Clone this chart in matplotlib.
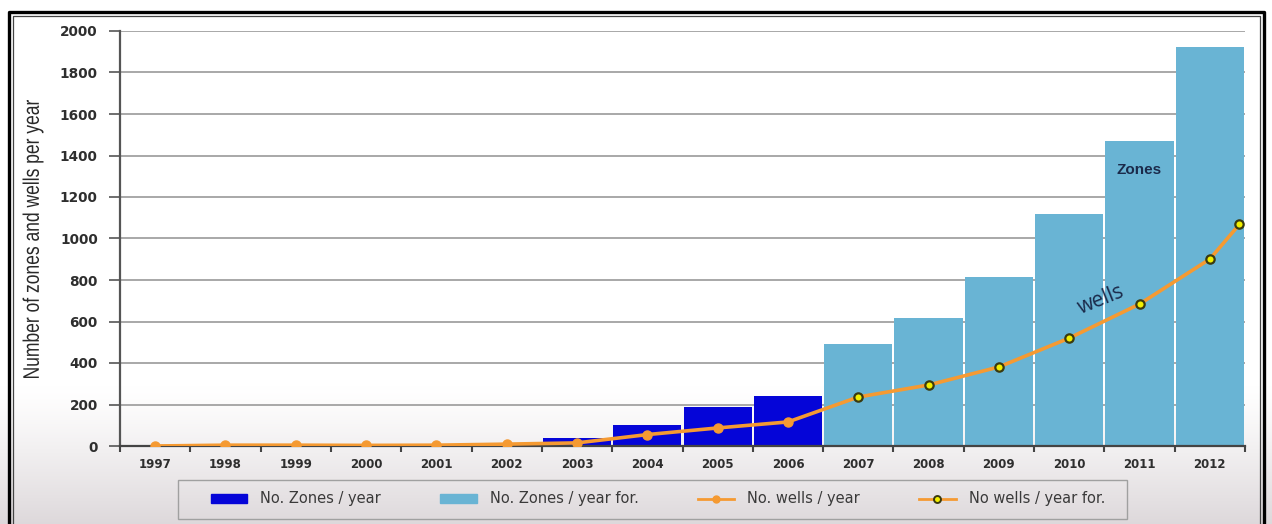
import numpy as np
import matplotlib
matplotlib.use("Agg")
import matplotlib.pyplot as plt
from matplotlib.lines import Line2D
from matplotlib.patches import Patch, Rectangle, PathPatch
from matplotlib.textpath import TextPath
from matplotlib.font_manager import FontProperties
from matplotlib.transforms import Affine2D, IdentityTransform

years = ["1997", "1998", "1999", "2000", "2001", "2002", "2003", "2004",
         "2005", "2006", "2007", "2008", "2009", "2010", "2011", "2012"]

# Zones per year (actual 1997-2006, forecast 2007-2012)
zones_actual = [0, 0, 0, 0, 0, 0, 40, 100, 190, 240]
zones_forecast = [490, 615, 815, 1120, 1470, 1925]

# Wells per year (actual 1997-2006)
wells_actual = [0, 4, 4, 3, 4, 9, 15, 55, 87, 116]
# Wells forecast, starting from the last actual year
wells_forecast_pos = [9, 10, 11, 12, 13, 14, 15, 15.42]
wells_forecast = [116, 236, 294, 381, 520, 684, 901, 1068]

yticks = list(range(0, 2001, 200))

c_dark = "#0505D8"
c_light = "#69B4D4"
c_orange = "#F59A32"
c_text = "#2E2E2E"

plt.rcParams["font.family"] = ["DejaVu Sans"]

W, H = 1272, 524
fig = plt.figure(figsize=(W / 100, H / 100), dpi=100)

# soft grey haze towards the bottom of the panel
bg = fig.add_axes([0, 0, 1, 1], zorder=-5)
grad = np.linspace(0, 1, 200)[:, None]
grad = np.clip((grad - 0.74) / 0.26, 0, 1) ** 1.2
img = np.ones((200, 2, 3))
tint = np.array([0.87, 0.85, 0.86])
img = img * (1 - grad[..., None]) + tint * grad[..., None]
bg.imshow(img, aspect="auto", extent=[0, 1, 0, 1], origin="upper")
bg.set_xlim(0, 1)
bg.set_ylim(0, 1)
bg.axis("off")

ax = fig.add_axes([120 / W, 1 - 446 / H, 1125 / W, 415 / H])
ax.patch.set_alpha(0)

n_act = len(zones_actual)
x_act = np.arange(n_act)
x_fc = np.arange(n_act, n_act + len(zones_forecast))

ax.bar(x_act, zones_actual, width=0.97, color=c_dark, zorder=2)
ax.bar(x_fc, zones_forecast, width=0.97, color=c_light, zorder=2)

ax.plot(wells_forecast_pos, wells_forecast, color=c_orange, lw=2.6, zorder=3,
        solid_capstyle="round")
ax.plot(wells_forecast_pos[1:], wells_forecast[1:], ls="none", marker="o",
        ms=6, mfc="#F2F000", mec="#3A3A10", mew=1.6, zorder=4)
ax.plot(x_act, wells_actual, color=c_orange, lw=2.6, marker="o", ms=6.5,
        mfc=c_orange, mec=c_orange, zorder=3)

ax.set_xlim(-0.5, 15.5)
ax.set_ylim(0, 2000)
ax.set_yticks(yticks)
ax.set_yticklabels([str(v) for v in yticks], fontsize=9.8, fontweight="bold",
                   color=c_text)
ax.set_xticks(np.arange(len(years)))
ax.set_xticklabels(years, fontsize=8.5, fontweight="bold", color=c_text)
ax.tick_params(axis="x", length=0, pad=9)
ax.tick_params(axis="y", length=8, width=1.2, color="#555555", pad=8)

ax.set_xticks(np.arange(-0.5, 15.6, 1), minor=True)
ax.tick_params(axis="x", which="minor", length=4, width=1.5, color="#444444",
               direction="out")

ax.grid(axis="y", color="#A8A8A8", lw=1.4, zorder=0)
ax.set_axisbelow(True)
for s in ["top", "right"]:
    ax.spines[s].set_visible(False)
ax.spines["left"].set_color("#555555")
ax.spines["left"].set_linewidth(1.6)
ax.spines["bottom"].set_color("#444444")
ax.spines["bottom"].set_linewidth(1.6)

# condensed vertical axis title, drawn as a squeezed text outline
ylabel = "Number of zones and wells per year"
tp = TextPath((0, 0), ylabel, size=20, prop=FontProperties(family="Liberation Sans"))
ext = tp.get_extents()
sx = 278 / ext.width
sy = 21 / ext.height
tr = (Affine2D()
      .translate(-(ext.x0 + ext.width / 2), -(ext.y0 + ext.height / 2))
      .scale(sx, sy)
      .rotate_deg(90)
      .translate(33, H - 239))
fig.add_artist(PathPatch(tr.transform_path(tp), transform=IdentityTransform(),
                         fc="#2A2A2A", ec="none"))

ax.text(14.0, 1330, "Zones", ha="center", va="center", fontsize=11,
        fontweight="bold", color="#1B2A4A", zorder=5,
        family=["Liberation Sans", "DejaVu Sans"])
ax.text(13.45, 705, "wells", ha="center", va="center", fontsize=15,
        color="#1B2A4A", rotation=22, zorder=5,
        family=["Open Sans", "DejaVu Sans"])

handles = [
    Patch(color=c_dark, label="No. Zones / year"),
    Patch(color=c_light, label="No. Zones / year for."),
    Line2D([], [], color=c_orange, lw=2, marker="o", ms=5, mfc=c_orange,
           mec=c_orange, label="No. wells / year"),
    Line2D([], [], color=c_orange, lw=2, marker="o", ms=5, mfc="#F2F000",
           mec="#3A3A10", mew=1.4, label="No wells / year for."),
]
leg = fig.legend(handles=handles, ncol=4, loc="center",
                 bbox_to_anchor=(658 / W, 1 - 499 / H), fontsize=10.5,
                 frameon=False, handlelength=2.5, handleheight=0.55,
                 handletextpad=0.9, columnspacing=4.05, borderpad=0,
                 borderaxespad=0)
for t in leg.get_texts():
    t.set_color("#3A3A3A")
fig.add_artist(Rectangle((178 / W, 1 - 519 / H), 949 / W, 39 / H,
                         transform=fig.transFigure, fill=False,
                         ec="#A0A0A0", lw=1.0))

# double frame: left, top and right sides
for x0, y0, x1, lw, col in [(9, 12, 1264, 2.4, "black"),
                            (13, 16, 1260, 0.9, "#444444")]:
    fig.add_artist(Line2D([x0 / W, x0 / W, x1 / W, x1 / W],
                          [0, 1 - y0 / H, 1 - y0 / H, 0],
                          transform=fig.transFigure, color=col, lw=lw))

fig.savefig("out.png", dpi=100)
